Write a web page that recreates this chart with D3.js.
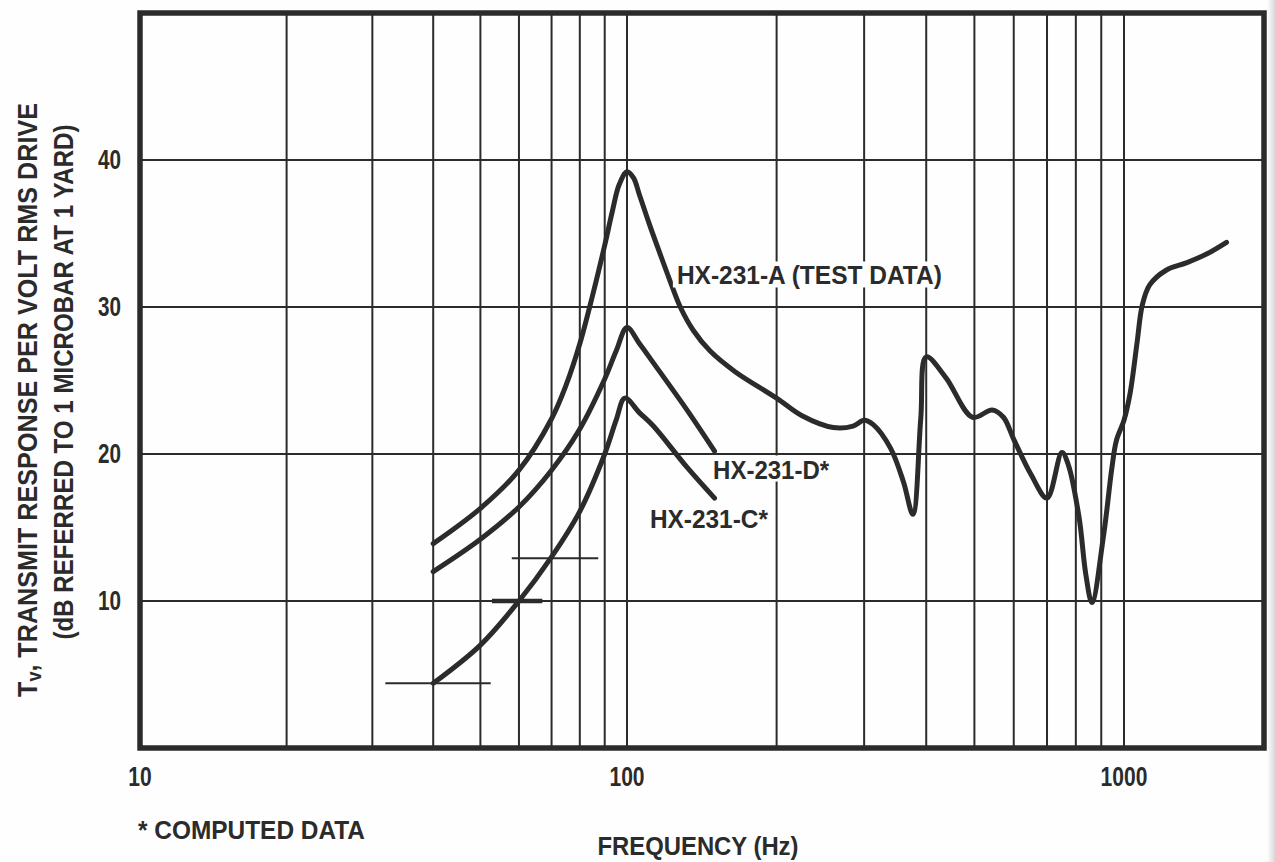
<!DOCTYPE html>
<html>
<head>
<meta charset="utf-8">
<script src="https://cdn.jsdelivr.net/npm/d3@7"></script>
<style>
  html, body { margin: 0; padding: 0; background: #fefefe; }
  svg { display: block; }
  text {
    font-family: 'Liberation Sans', Arial, sans-serif;
    font-weight: bold;
    fill: #2b2b2b;
  }
</style>
</head>
<body>
<svg id="chart" width="1275" height="862"></svg>
<script>
// Transmit response (dB re 1 microbar at 1 yard per volt rms) vs frequency (Hz)
const hx231A = [
  [40, 13.9], [50, 16.3], [60, 18.9], [70, 22.4], [75, 24.7], [80, 27.5],
  [85, 30.8], [90, 34.2], [93.3, 36.5], [96.3, 38.3], [100, 39.2], [103, 38.8],
  [106, 37.6], [111, 35.6], [116.6, 33.6], [122, 31.8], [128, 30.0], [136, 28.4],
  [147, 27.0], [165, 25.6], [200, 23.8], [225, 22.6], [260, 21.8], [285, 21.9],
  [300, 22.3], [313, 22.0], [339, 20.4], [360, 18.1], [376, 15.9], [390, 22.4],
  [400, 26.6], [438, 25.2], [496, 22.5], [543, 23.0], [572, 22.5], [600, 21.0],
  [650, 18.6], [700, 17.0], [750, 20.1], [772, 19.3], [812, 15.7], [838, 11.8],
  [862, 9.9], [910, 14.5], [945, 19.0], [965, 20.9], [1000, 22.3], [1028, 24.1],
  [1062, 27.6], [1087, 30.1], [1125, 31.5], [1213, 32.5], [1330, 33.0],
  [1460, 33.6], [1600, 34.4]
];
const hx231D = [
  [40, 12.0], [50, 14.2], [60, 16.4], [70, 18.9], [80, 21.7], [90, 25.1],
  [95, 27.0], [100, 28.6], [106, 27.5], [113, 26.2], [132, 23.0], [150, 20.2]
];
const hx231C = [
  [40, 4.4], [50, 7.0], [60, 10.0], [70, 13.0], [80, 16.1], [90, 20.0],
  [95, 22.3], [99, 23.8], [106, 22.8], [113, 21.9], [132, 19.1], [150, 17.0]
];
// Short horizontal level marks: [from Hz, to Hz, dB, heavy]
const levelMarks = [
  [31.9, 52.5, 4.4, false],
  [52.8, 67.0, 10.0, true],
  [58.0, 87.3, 12.9, false]
];

const xTickLabels = [10, 100, 1000];
const xGridFreqs = [20, 30, 40, 50, 60, 70, 80, 90, 100, 200, 300, 400, 500, 600, 700, 800, 900, 1000];
const yTickLabels = [10, 20, 30, 40];

const curveLabels = [
  { text: "HX-231-A (TEST DATA)", f: 126, db: 32.0, len: 265 },
  { text: "HX-231-D*", f: 149, db: 18.8, len: 116 },
  { text: "HX-231-C*", f: 111.2, db: 15.4, len: 118 }
];

const svg = d3.select("#chart");
const ink = "#2b2b2b";

const x = d3.scaleLog()
  .domain([10, 100, 1000, 1900])
  .range([140, 627, 1124, 1264]);
const y = d3.scaleLinear().domain([0, 50]).range([748, 13]);

const [x0, x1] = [x(10), x(1900)];
const [y0, y1] = [y(0), y(50)];

// shaded page edge at the far right
const edge = svg.append("defs").append("linearGradient").attr("id", "edge");
edge.append("stop").attr("offset", "0%").attr("stop-color", "#fefefe");
edge.append("stop").attr("offset", "100%").attr("stop-color", "#d9d9d9");
svg.append("rect").attr("x", 1267).attr("y", 0).attr("width", 8).attr("height", 862)
  .attr("fill", "url(#edge)");

// grid
const grid = svg.append("g").attr("stroke", ink).attr("stroke-width", 2);
grid.selectAll("line.v").data(xGridFreqs).join("line")
  .attr("x1", d => x(d)).attr("x2", d => x(d))
  .attr("y1", y1).attr("y2", y0);
grid.selectAll("line.h").data(yTickLabels).join("line")
  .attr("x1", x0).attr("x2", x1)
  .attr("y1", d => y(d)).attr("y2", d => y(d));

// condensed lettering: fixed text length squeezes the glyphs
function fit(sel, len) {
  sel.attr("textLength", len).attr("lengthAdjust", "spacingAndGlyphs");
}

// curve label backings (they break the grid lines behind the text)
const labelG = svg.append("g");
const labelTexts = labelG.selectAll("text").data(curveLabels).join("text")
  .attr("x", d => x(d.f)).attr("y", d => y(d.db))
  .attr("font-size", 26)
  .attr("dominant-baseline", "middle")
  .attr("textLength", d => d.len).attr("lengthAdjust", "spacingAndGlyphs")
  .text(d => d.text);
labelTexts.each(function () {
  const b = this.getBBox();
  labelG.insert("rect", "text")
    .attr("x", b.x - 4).attr("y", b.y + 1)
    .attr("width", b.width + 8).attr("height", b.height - 4)
    .attr("fill", "#fefefe");
});

// level marks
svg.append("g").selectAll("line").data(levelMarks).join("line")
  .attr("x1", d => x(d[0])).attr("x2", d => x(d[1]))
  .attr("y1", d => y(d[2])).attr("y2", d => y(d[2]))
  .attr("stroke", ink)
  .attr("stroke-width", d => d[3] ? 4.5 : 2);

// response curves
const line = d3.line()
  .x(d => x(d[0])).y(d => y(d[1]))
  .curve(d3.curveCatmullRom.alpha(0.5));
svg.append("g").selectAll("path").data([hx231A, hx231D, hx231C]).join("path")
  .attr("d", line)
  .attr("fill", "none")
  .attr("stroke", ink)
  .attr("stroke-width", 5)
  .attr("stroke-linecap", "round")
  .attr("stroke-linejoin", "round");

labelG.raise();

// frame
svg.append("rect")
  .attr("x", x0).attr("y", y1)
  .attr("width", x1 - x0).attr("height", y0 - y1)
  .attr("fill", "none").attr("stroke", ink).attr("stroke-width", 5.5);

// axis labels
svg.append("g").selectAll("text").data(yTickLabels).join("text")
  .attr("x", 121).attr("y", d => y(d) + 2)
  .attr("text-anchor", "end").attr("dominant-baseline", "middle")
  .attr("font-size", 27)
  .attr("textLength", 23).attr("lengthAdjust", "spacingAndGlyphs")
  .text(d => d);

svg.append("g").selectAll("text").data(xTickLabels).join("text")
  .attr("x", d => x(d)).attr("y", 779)
  .attr("text-anchor", "middle").attr("dominant-baseline", "middle")
  .attr("font-size", 27)
  .attr("textLength", d => String(d).length * 11.7)
  .attr("lengthAdjust", "spacingAndGlyphs")
  .text(d => d);

svg.append("text")
  .attr("x", 698).attr("y", 848)
  .attr("text-anchor", "middle").attr("dominant-baseline", "middle")
  .attr("font-size", 26)
  .call(fit, 201)
  .text("FREQUENCY (Hz)");

svg.append("text")
  .attr("x", 138).attr("y", 832)
  .attr("dominant-baseline", "middle")
  .attr("font-size", 26)
  .call(fit, 227)
  .text("* COMPUTED DATA");

// y axis title, two lines
const t1 = svg.append("text")
  .attr("transform", "translate(30,400) rotate(-90)")
  .attr("text-anchor", "middle").attr("dominant-baseline", "middle")
  .attr("font-size", 28)
  .call(fit, 594);
t1.append("tspan").text("T");
t1.append("tspan").attr("font-size", 20).attr("dy", 6).text("v");
t1.append("tspan").attr("dy", -6).text(", TRANSMIT RESPONSE PER VOLT RMS DRIVE");

svg.append("text")
  .attr("transform", "translate(66,382) rotate(-90)")
  .attr("text-anchor", "middle").attr("dominant-baseline", "middle")
  .attr("font-size", 28)
  .call(fit, 515)
  .text("(dB REFERRED TO 1 MICROBAR AT 1 YARD)");
</script>
</body>
</html>
